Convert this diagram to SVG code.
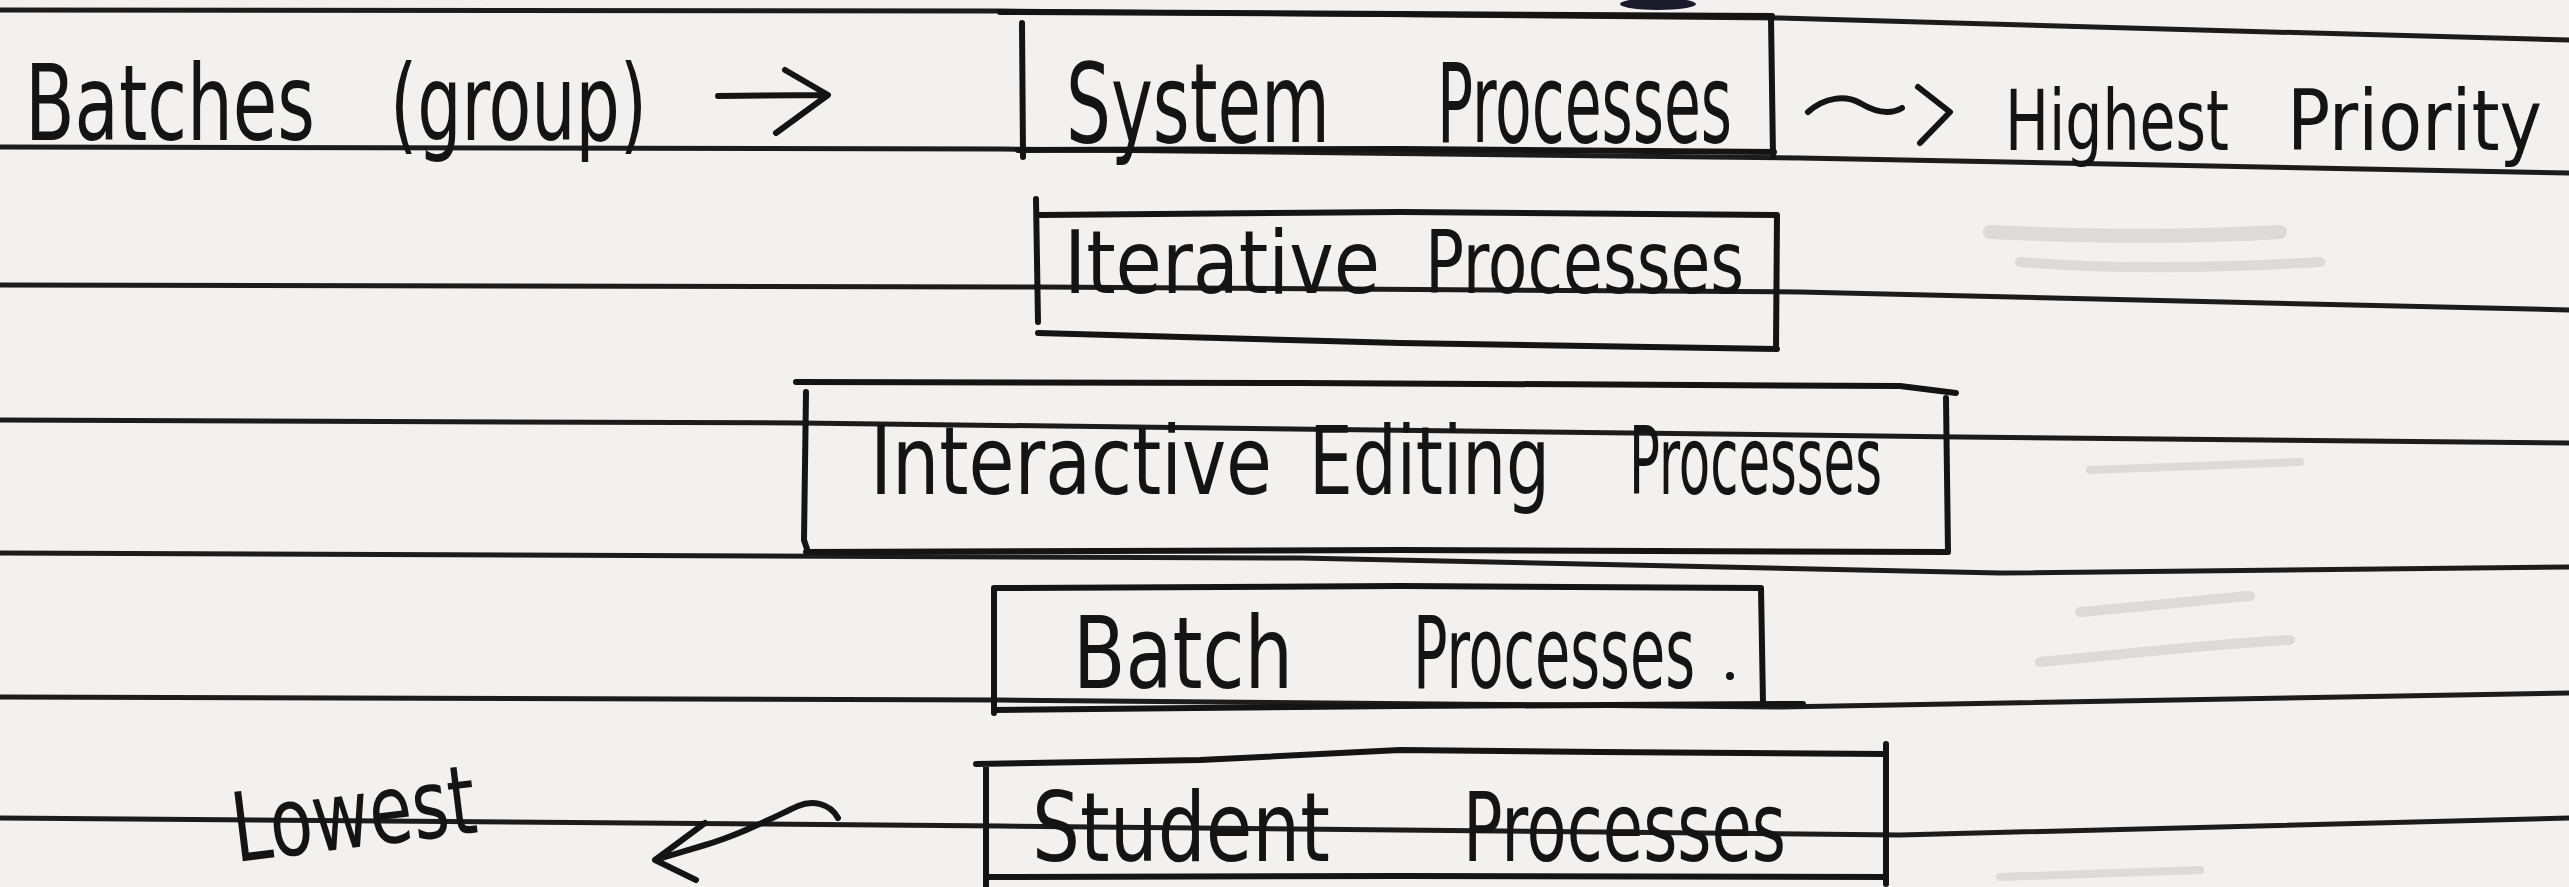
<svg xmlns="http://www.w3.org/2000/svg" width="2569" height="887" viewBox="0 0 2569 887">
<defs>
<style>
.ink{fill:none;stroke:#141414;stroke-width:6;stroke-linecap:round;stroke-linejoin:round}
.rule{fill:none;stroke:#1c1c1c;stroke-width:5;stroke-linecap:round;stroke-linejoin:round}
.smudge{fill:none;stroke:#b5b0b0;stroke-linecap:round;opacity:0.35}
.hw{font-family:"Liberation Sans Narrow","DejaVu Sans Condensed","Liberation Sans",sans-serif;font-stretch:condensed;fill:#141414}
</style>
</defs>
<rect x="0" y="0" width="2569" height="887" fill="#f3f1f0"/>
<g id="paper-rules">
<path class="rule" d="M0,10 L1000,11 L1780,18 L2200,30 L2569,40"/>
<path class="rule" d="M0,147 L1000,149 L1800,158 L2569,173"/>
<path class="rule" d="M0,285 L1040,287 L1800,292 L2569,310"/>
<path class="rule" d="M0,420 L800,423 L1960,437 L2569,443"/>
<path class="rule" d="M0,553 L1300,558 L2000,573 L2569,567"/>
<path class="rule" d="M0,697 L1000,700 L1780,707 L2569,693"/>
<path class="rule" d="M0,818 L1000,826 L1900,835 L2569,818"/>
<path class="smudge" stroke-width="14" d="M1990,232 C2080,236 2180,238 2280,232"/>
<path class="smudge" stroke-width="10" d="M2020,262 C2120,270 2220,268 2320,262"/>
<path class="smudge" stroke-width="8" d="M2090,470 L2300,462"/>
<path class="smudge" stroke-width="10" d="M2080,612 C2150,606 2200,600 2250,596"/>
<path class="smudge" stroke-width="10" d="M2040,662 C2120,655 2200,645 2290,640"/>
<path class="smudge" stroke-width="8" d="M2000,877 L2200,870"/>
</g>
<g id="batches-label">
<text class="hw" font-size="105" y="140"><tspan x="25" textLength="290" lengthAdjust="spacingAndGlyphs">Batches</tspan><tspan x="390" textLength="257" lengthAdjust="spacingAndGlyphs">(group)</tspan></text>
</g>
<g id="node-system">
<path class="ink" d="M1000,12 L1400,14 L1772,16 M1022,23 L1023,157 M1018,150 L1400,149 L1774,152 M1771,17 L1773,157"/>
<ellipse cx="1658" cy="4" rx="38" ry="6" fill="#1a1a2a"/>
<text class="hw" font-size="110" y="142"><tspan x="1066" textLength="264" lengthAdjust="spacingAndGlyphs">System</tspan><tspan x="1437" textLength="295" lengthAdjust="spacingAndGlyphs">Processes</tspan></text>
</g>
<g id="highest-label">
<text class="hw" font-size="84" y="150"><tspan x="2005" textLength="224" lengthAdjust="spacingAndGlyphs">Highest</tspan><tspan x="2287" textLength="255" lengthAdjust="spacingAndGlyphs">Priority</tspan></text>
</g>
<g id="node-iterative">
<path class="ink" d="M1040,215 L1400,212 L1777,215 M1036,199 L1038,322 M1038,333 L1400,343 L1777,349 M1777,215 L1776,349"/>
<text class="hw" font-size="88" y="293"><tspan x="1064" textLength="316" lengthAdjust="spacingAndGlyphs">Iterative</tspan><tspan x="1425" textLength="319" lengthAdjust="spacingAndGlyphs">Processes</tspan></text>
</g>
<g id="node-interactive">
<path class="ink" d="M796,382 L1300,383 L1900,386 L1956,393 M806,392 L804,540 L808,552 M806,552 L1400,550 L1948,552 M1946,398 L1948,552"/>
<text class="hw" font-size="94" y="494"><tspan x="870" textLength="402" lengthAdjust="spacingAndGlyphs">Interactive</tspan><tspan x="1309" textLength="241" lengthAdjust="spacingAndGlyphs">Editing</tspan><tspan x="1629" textLength="253" lengthAdjust="spacingAndGlyphs">Processes</tspan></text>
</g>
<g id="node-batch">
<path class="ink" d="M994,588 L1400,586 L1761,588 M994,588 L994,713 M994,710 L1400,706 L1803,704 M1761,588 L1763,704"/>
<text class="hw" font-size="100" y="688"><tspan x="1073" textLength="220" lengthAdjust="spacingAndGlyphs">Batch</tspan><tspan x="1413" textLength="282" lengthAdjust="spacingAndGlyphs">Processes</tspan></text>
<circle cx="1730" cy="676" r="4" fill="#141414"/>
</g>
<g id="node-student">
<path class="ink" d="M976,764 L1200,760 L1400,750 L1600,752 L1886,754 M986,764 L986,887 M986,877 L1400,876 L1886,877 M1886,744 L1886,884"/>
<text class="hw" font-size="96" y="861"><tspan x="1032" textLength="298" lengthAdjust="spacingAndGlyphs">Student</tspan><tspan x="1463" textLength="323" lengthAdjust="spacingAndGlyphs">Processes</tspan></text>
</g>
<g id="lowest-label">
<text class="hw" font-size="96" transform="rotate(-7 236 862)"><tspan x="236" y="862" textLength="245" lengthAdjust="spacingAndGlyphs">Lowest</tspan></text>
</g>
<g id="connectors">
<path class="ink" d="M718,96 L827,95 M785,70 L828,95 L776,133"/>
<path class="ink" d="M1808,112 C1825,97 1845,95 1860,103 C1875,112 1890,115 1902,108 M1918,87 L1950,112 L1920,143"/>
<path class="ink" d="M838,818 C830,803 812,800 798,806 C772,818 742,834 705,845 L655,860 M705,823 L655,860 L696,880"/>
</g>
</svg>
